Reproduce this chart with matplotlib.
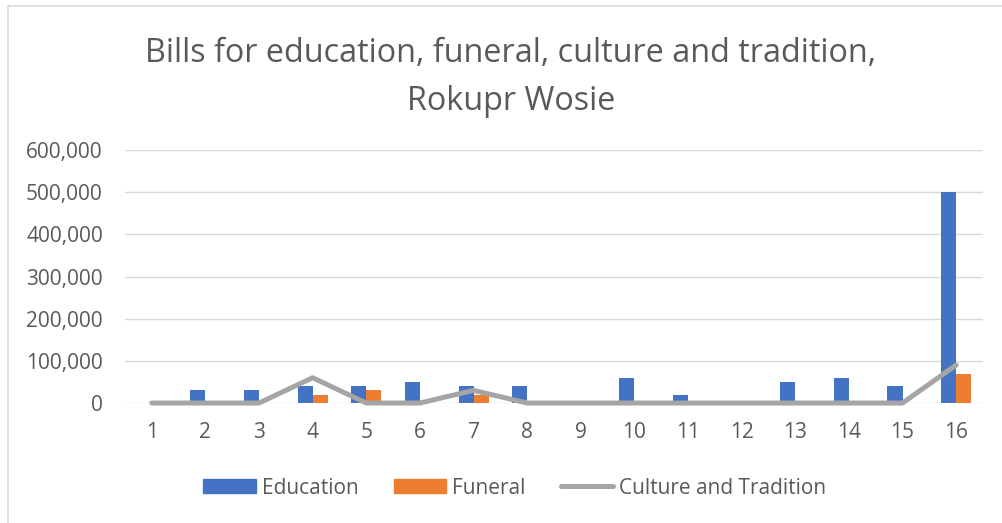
import numpy as np
import matplotlib.pyplot as plt
from matplotlib.ticker import FuncFormatter
from matplotlib.patches import Rectangle
from matplotlib.lines import Line2D

# Data
categories = [str(i) for i in range(1, 17)]
education = [0, 30000, 30000, 40000, 40000, 50000, 40000, 40000, 0, 60000, 20000, 0, 50000, 60000, 40000, 500000]
funeral = [0, 0, 0, 20000, 30000, 0, 20000, 0, 0, 0, 0, 0, 0, 0, 0, 70000]
culture = [0, 0, 0, 60000, 0, 0, 30000, 0, 0, 0, 0, 0, 0, 0, 0, 90000]

blue = '#4472C4'
orange = '#ED7D31'
grey = '#A5A5A5'
text_col = '#595959'
plt.rcParams['font.family'] = ['Open Sans', 'DejaVu Sans']

fig = plt.figure(figsize=(10.03, 5.23), dpi=100)
ax = fig.add_axes([0.1246, 0.2294, 0.8554, 0.4838])

x = np.arange(len(categories))
w = 0.28
ax.bar(x - w / 2, education, width=w, color=blue, label='Education', zorder=2)
ax.bar(x + w / 2, funeral, width=w, color=orange, label='Funeral', zorder=2)
ax.plot(x, culture, color=grey, lw=3.6, solid_capstyle='round', solid_joinstyle='round',
        label='Culture and Tradition', zorder=3, clip_on=False)

ax.set_xlim(-0.5, len(categories) - 0.5)
ax.set_ylim(0, 600000)
ax.set_yticks(np.arange(0, 600001, 100000))
ax.yaxis.set_major_formatter(FuncFormatter(lambda v, p: f'{int(v):,}'))
ax.set_xticks(x)
ax.set_xticklabels(categories)
ax.grid(axis='y', color='#D9D9D9', lw=1, zorder=0)
for s in ax.spines.values():
    s.set_visible(False)
ax.tick_params(length=0, labelsize=15, colors=text_col)
ax.tick_params(axis='y', pad=16)
ax.tick_params(axis='x', pad=14)

# title, two centred lines
fig.text(0.5095, 1 - 62 / 523, 'Bills for education, funeral, culture and tradition,',
         ha='center', va='baseline', fontsize=23.3, color=text_col)
fig.text(0.5095, 1 - 110 / 523, 'Rokupr Wosie',
         ha='center', va='baseline', fontsize=23.3, color=text_col)

handles = [Rectangle((0, 0), 1, 1, color=blue), Rectangle((0, 0), 1, 1, color=orange),
           Line2D([0], [0], color=grey, lw=3.6, solid_capstyle='round')]
fig.legend(handles, ['Education', 'Funeral', 'Culture and Tradition'], loc='center',
           bbox_to_anchor=(0.5135, 1 - 488 / 523), ncol=3, frameon=False, fontsize=15,
           labelcolor=text_col, handlelength=2.5, handleheight=0.63, columnspacing=1.7,
           handletextpad=0.3, borderpad=0)

# chart area border (left and top edges visible)
fig.add_artist(Line2D([8 / 1003, 8 / 1003], [0, 1 - 6 / 523], transform=fig.transFigure,
                      color='#D9D9D9', lw=1.2))
fig.add_artist(Line2D([8 / 1003, 1], [1 - 6 / 523, 1 - 6 / 523], transform=fig.transFigure,
                      color='#D9D9D9', lw=1.2))

plt.savefig('out.png', dpi=100)
